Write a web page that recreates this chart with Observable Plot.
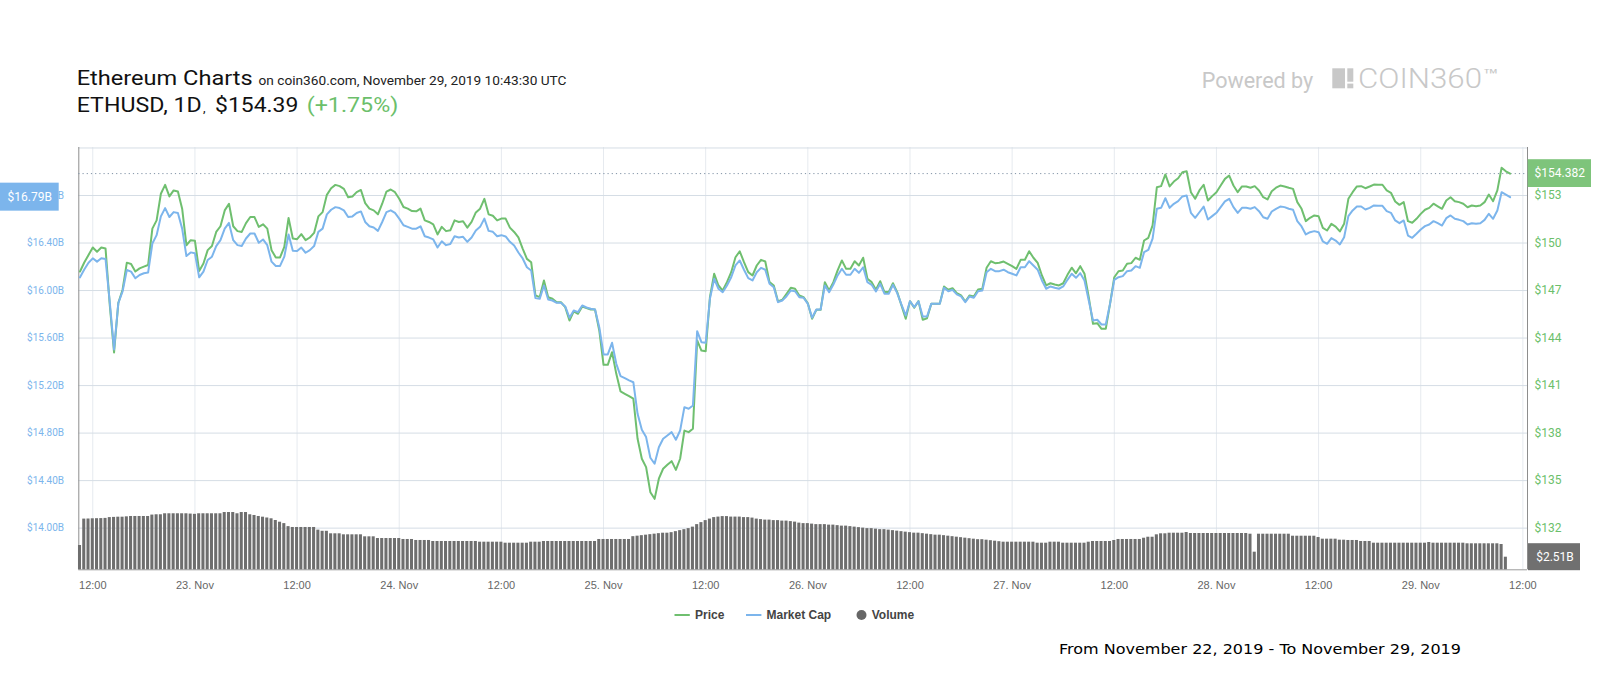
<!DOCTYPE html>
<html><head><meta charset="utf-8">
<script src="https://cdn.jsdelivr.net/npm/d3@7"></script>
<script src="https://cdn.jsdelivr.net/npm/@observablehq/plot@0.6"></script>
<style>
html,body{margin:0;padding:0;background:#fff;overflow:hidden;}
#wrap{position:relative;width:1600px;height:700px;}
#wrap > svg{position:absolute;left:0;top:0;margin:0;}
</style></head>
<body>
<div id="wrap">
<svg id="deco" width="1600" height="700">
  <text x="76.7" y="85" font-family="Roboto" font-size="21" fill="#111" textLength="176" lengthAdjust="spacingAndGlyphs">Ethereum Charts</text>
  <text x="258.5" y="85" font-family="Roboto" font-size="13" fill="#222" textLength="308" lengthAdjust="spacingAndGlyphs">on coin360.com, November 29, 2019 10:43:30 UTC</text>
  <text x="76.7" y="112" font-family="Roboto" font-size="20" fill="#111" textLength="125" lengthAdjust="spacingAndGlyphs">ETHUSD, 1D</text>
  <text x="203" y="112" font-family="Roboto" font-size="13" fill="#111">,</text>
  <text x="215" y="112" font-family="Roboto" font-size="20" fill="#111" textLength="83.3" lengthAdjust="spacingAndGlyphs">$154.39</text>
  <text x="306.7" y="112" font-family="Roboto" font-size="20" fill="#6cbf6b" textLength="91.6" lengthAdjust="spacingAndGlyphs">(+1.75%)</text>
  <text x="1201.7" y="88.3" font-family="Roboto" font-size="22" fill="#c8c8c8" textLength="111.6" lengthAdjust="spacingAndGlyphs">Powered by</text>
  <rect x="1332.3" y="68.3" width="12.7" height="20" fill="#c8c8c8"/>
  <rect x="1347.3" y="68.3" width="6" height="13.4" fill="#c8c8c8"/>
  <rect x="1347.3" y="83.6" width="6" height="4.7" fill="#c8c8c8"/>
  <text x="1358" y="88.3" font-family="Roboto" font-weight="300" font-size="28" fill="#c8c8c8" textLength="124" lengthAdjust="spacingAndGlyphs">COIN360</text>
  <text x="1483" y="81" font-family="Roboto" font-size="17" fill="#c8c8c8" textLength="16" lengthAdjust="spacingAndGlyphs">™</text>
  <line x1="674.5" x2="689.8" y1="615" y2="615" stroke="#6fbf6f" stroke-width="2"/>
  <text x="695" y="619.2" font-family="Liberation Sans, Arial" font-weight="bold" font-size="12" fill="#444">Price</text>
  <line x1="746" x2="761.4" y1="615" y2="615" stroke="#7cb5ec" stroke-width="2"/>
  <text x="766.5" y="619.2" font-family="Liberation Sans, Arial" font-weight="bold" font-size="12" fill="#444">Market Cap</text>
  <circle cx="861.5" cy="615" r="5" fill="#666"/>
  <text x="871.7" y="619.2" font-family="Liberation Sans, Arial" font-weight="bold" font-size="12" fill="#444">Volume</text>
  <text x="1059" y="654" font-family="DejaVu Sans" font-size="14" fill="#000" textLength="402" lengthAdjust="spacingAndGlyphs">From November 22, 2019 - To November 29, 2019</text>
</svg>
</div>
<script>
// ---- data (30-minute samples starting at startTime) ----
const startTime = "2019-11-22T10:30:00Z";
const stepMinutes = 30;

const price = [
148.20,148.77,149.24,149.72,149.45,149.72,149.65,146.06,143.09,146.21,
147.05,148.76,148.68,148.20,148.40,148.51,148.61,150.91,151.43,153.11,
153.67,152.94,153.32,153.25,152.17,149.86,150.18,150.14,148.23,148.71,
149.55,149.81,150.70,151.06,152.06,152.48,151.06,150.75,150.70,151.26,
151.64,151.64,151.02,151.18,150.91,149.55,149.09,149.09,149.76,151.58,
150.29,150.24,150.56,150.18,150.35,150.64,151.68,151.95,153.04,153.46,
153.67,153.59,153.42,152.89,152.94,153.21,153.35,152.52,152.17,152.06,
151.81,152.48,153.25,153.38,153.21,152.79,152.27,152.17,152.02,152.00,
152.17,151.43,151.33,151.18,150.54,151.02,150.75,150.80,151.43,151.33,
151.37,150.97,151.33,151.93,152.17,152.79,151.81,151.72,151.43,151.54,
151.54,150.97,150.70,150.35,149.65,149.00,148.79,146.69,146.58,147.63,
146.58,146.48,146.26,146.26,145.95,145.11,145.68,145.53,145.99,145.89,
145.80,145.80,144.48,142.31,142.31,143.11,141.74,140.63,140.48,140.33,
140.17,137.64,136.38,135.85,134.27,133.85,135.12,135.75,136.00,136.23,
135.68,136.38,138.16,138.06,138.27,143.85,143.21,143.17,146.58,148.06,
147.32,147.00,147.53,148.16,149.10,149.48,148.79,148.16,147.95,148.58,
148.94,148.83,147.53,147.32,146.31,146.42,146.79,147.17,147.11,146.69,
146.58,146.20,145.22,145.78,145.78,147.53,147.00,147.53,148.27,148.90,
148.37,148.37,148.85,148.58,149.07,147.74,147.53,147.05,147.59,146.90,
146.90,147.46,146.90,146.06,145.22,146.33,145.91,146.33,145.15,145.25,
146.16,146.16,146.16,147.26,147.05,147.15,146.83,146.69,146.31,146.69,
146.62,147.07,147.11,148.44,148.85,148.73,148.75,148.83,148.69,148.54,
148.37,148.94,148.94,149.48,149.07,148.75,147.95,147.32,147.46,147.38,
147.32,147.46,147.99,148.44,148.09,148.54,148.06,146.58,144.90,144.94,
144.58,144.58,146.16,147.84,148.22,148.27,148.69,148.73,149.07,148.94,
150.16,150.33,151.11,153.52,153.59,154.33,153.57,153.88,154.09,154.47,
154.53,153.21,152.79,153.32,153.68,152.68,152.96,153.21,153.63,154.05,
154.26,153.63,153.21,153.57,153.57,153.49,153.59,153.32,152.89,152.75,
153.27,153.49,153.63,153.57,153.49,153.42,152.58,152.16,151.38,151.59,
151.74,151.69,150.96,150.79,151.21,151.04,150.73,151.21,152.79,153.21,
153.57,153.59,153.46,153.57,153.69,153.68,153.68,153.32,153.17,152.62,
152.41,152.58,151.38,151.28,151.53,151.84,152.10,152.22,152.48,152.32,
152.16,152.68,152.89,152.64,152.58,152.48,152.26,152.37,152.32,152.37,
152.58,153.06,152.64,153.32,154.75,154.53,154.382];

const marketCap = [
16.111,16.177,16.234,16.271,16.243,16.271,16.265,15.899,15.504,15.894,
15.992,16.173,16.159,16.103,16.131,16.145,16.151,16.396,16.466,16.624,
16.694,16.619,16.660,16.653,16.521,16.290,16.321,16.313,16.111,16.159,
16.257,16.285,16.374,16.424,16.521,16.569,16.424,16.382,16.374,16.438,
16.480,16.480,16.402,16.430,16.382,16.243,16.207,16.207,16.285,16.472,
16.335,16.332,16.362,16.318,16.340,16.374,16.494,16.521,16.641,16.680,
16.702,16.694,16.675,16.619,16.624,16.653,16.666,16.577,16.541,16.530,
16.502,16.577,16.660,16.675,16.653,16.605,16.549,16.536,16.521,16.521,
16.541,16.457,16.446,16.430,16.362,16.415,16.382,16.391,16.457,16.446,
16.452,16.410,16.446,16.505,16.536,16.605,16.502,16.494,16.457,16.466,
16.455,16.410,16.379,16.320,16.270,16.196,16.169,15.936,15.930,16.042,
15.925,15.916,15.897,15.897,15.866,15.771,15.832,15.818,15.874,15.857,
15.846,15.840,15.691,15.462,15.462,15.560,15.383,15.279,15.262,15.243,
15.228,14.962,14.828,14.766,14.592,14.542,14.681,14.752,14.780,14.808,
14.744,14.822,15.018,15.005,15.032,15.658,15.565,15.560,15.930,16.099,
16.015,15.986,16.042,16.112,16.211,16.253,16.175,16.104,16.085,16.154,
16.191,16.175,16.057,16.028,15.902,15.916,15.952,16.000,15.994,15.944,
15.939,15.888,15.771,15.840,15.840,16.042,15.986,16.051,16.127,16.183,
16.133,16.133,16.183,16.149,16.196,16.070,16.048,15.992,16.057,15.973,
15.973,16.048,15.978,15.882,15.790,15.910,15.860,15.910,15.781,15.781,
15.888,15.888,15.888,16.023,15.994,16.006,15.967,15.950,15.902,15.950,
15.939,15.994,16.000,16.154,16.183,16.163,16.163,16.175,16.154,16.141,
16.127,16.196,16.196,16.247,16.211,16.175,16.085,16.015,16.034,16.023,
16.015,16.034,16.090,16.141,16.107,16.146,16.085,15.916,15.748,15.754,
15.714,15.714,15.888,16.090,16.112,16.121,16.163,16.169,16.205,16.191,
16.323,16.343,16.436,16.688,16.696,16.777,16.696,16.730,16.752,16.792,
16.800,16.654,16.612,16.659,16.707,16.598,16.626,16.654,16.702,16.750,
16.772,16.702,16.654,16.696,16.696,16.688,16.702,16.668,16.617,16.604,
16.665,16.688,16.707,16.702,16.688,16.680,16.584,16.539,16.472,16.491,
16.500,16.491,16.413,16.393,16.441,16.421,16.388,16.449,16.626,16.674,
16.707,16.707,16.682,16.696,16.716,16.713,16.713,16.668,16.654,16.590,
16.567,16.590,16.463,16.444,16.478,16.514,16.542,16.556,16.584,16.567,
16.547,16.609,16.632,16.604,16.595,16.584,16.556,16.567,16.562,16.567,
16.595,16.646,16.604,16.674,16.828,16.808,16.786];

const volume = [
4.84,10.10,10.12,10.16,10.18,10.20,10.24,10.40,10.44,10.48,
10.48,10.55,10.62,10.62,10.62,10.62,10.62,10.90,10.96,10.96,
11.16,11.16,11.16,11.16,11.16,11.16,11.10,11.05,11.16,11.16,
11.16,11.16,11.16,11.16,11.41,11.41,11.41,11.16,11.41,11.41,
10.96,10.82,10.62,10.48,10.32,10.16,9.82,9.48,9.20,8.60,
8.43,8.43,8.43,8.43,8.43,8.43,7.90,7.67,7.67,7.17,
7.17,7.17,6.97,6.97,6.97,6.97,6.97,6.57,6.57,6.57,
6.23,6.23,6.23,6.23,6.23,6.23,6.04,6.04,6.04,5.84,
5.84,5.84,5.84,5.64,5.64,5.64,5.64,5.64,5.64,5.64,
5.64,5.64,5.64,5.64,5.50,5.50,5.50,5.50,5.50,5.50,
5.30,5.30,5.30,5.30,5.30,5.30,5.50,5.50,5.50,5.64,
5.64,5.64,5.64,5.64,5.64,5.64,5.64,5.64,5.64,5.64,
5.64,5.64,6.04,6.04,6.04,6.04,6.04,6.04,6.04,6.04,
6.60,6.70,6.80,6.90,7.00,7.10,7.20,7.29,7.29,7.40,
7.60,7.80,8.00,8.20,8.50,9.00,9.40,9.80,10.10,10.40,
10.50,10.60,10.60,10.50,10.50,10.50,10.40,10.40,10.30,10.10,
10.00,9.90,9.90,9.80,9.80,9.70,9.70,9.60,9.50,9.30,
9.20,9.20,9.10,9.00,9.00,9.00,8.90,8.90,8.80,8.70,
8.70,8.60,8.50,8.40,8.30,8.20,8.20,8.10,8.00,8.00,
7.90,7.80,7.70,7.60,7.50,7.40,7.30,7.30,7.20,7.10,
7.00,6.90,6.90,6.80,6.70,6.60,6.50,6.40,6.30,6.20,
6.10,6.00,6.00,5.90,5.80,5.70,5.60,5.50,5.50,5.50,
5.50,5.50,5.50,5.50,5.50,5.30,5.30,5.30,5.50,5.50,
5.50,5.30,5.30,5.30,5.30,5.30,5.30,5.50,5.64,5.64,
5.64,5.64,5.64,5.84,6.04,6.04,6.04,6.04,6.04,6.04,
6.29,6.49,6.49,6.97,7.17,7.17,7.29,7.29,7.29,7.29,
7.43,7.23,7.23,7.23,7.23,7.23,7.23,7.23,7.23,7.23,
7.23,7.23,7.23,7.23,7.23,7.09,3.51,7.09,7.09,7.09,
7.09,7.09,7.09,7.09,7.09,6.69,6.69,6.69,6.69,6.69,
6.69,6.43,6.10,6.10,6.10,6.10,5.90,5.90,5.84,5.84,
5.84,5.64,5.64,5.64,5.30,5.30,5.30,5.30,5.30,5.30,
5.30,5.30,5.30,5.30,5.30,5.30,5.30,5.44,5.30,5.30,
5.30,5.30,5.30,5.30,5.30,5.30,5.18,5.18,5.18,5.18,
5.18,5.18,5.18,5.18,5.04,2.51];

const priceTicks = [132,135,138,141,144,147,150,153,156];
const priceLabelTicks = [132,135,138,141,144,147,150,153];
const capLabelTicks = [14.0,14.4,14.8,15.2,15.6,16.0,16.4,16.8];
const xTickTimes = ["2019-11-22T12:00Z","2019-11-23T00:00Z","2019-11-23T12:00Z","2019-11-24T00:00Z","2019-11-24T12:00Z","2019-11-25T00:00Z","2019-11-25T12:00Z","2019-11-26T00:00Z","2019-11-26T12:00Z","2019-11-27T00:00Z","2019-11-27T12:00Z","2019-11-28T00:00Z","2019-11-28T12:00Z","2019-11-29T00:00Z","2019-11-29T12:00Z"];
const xTickLabels = ["12:00","23. Nov","12:00","24. Nov","12:00","25. Nov","12:00","26. Nov","12:00","27. Nov","12:00","28. Nov","12:00","29. Nov","12:00"];

// ---- layout / style ----
const W = 1600, H = 600;
const M = {marginTop: 147, marginLeft: 78.3, marginRight: 73, marginBottom: 30.7};
const xDomain = [new Date("2019-11-22T10:21:30Z"), new Date("2019-11-29T12:32:30Z")];
const priceDomain = [129.37, 156.03];
const capDomain = [13.649, 17.204];
const volDomain = [0, 84.12];
const GREEN = "#6fbf6f", GREEN_TXT = "#6cbf6b", GREEN_BOX = "#7ec47b";
const BLUE = "#7cb5ec", BLUE_BOX = "#7cb5ec";
const STYLE = {background: "transparent", fontFamily: "Roboto, sans-serif", overflow: "visible"};

const t0 = Date.parse(startTime);
const times = price.map((_, i) => new Date(t0 + i * stepMinutes * 60000));
const series = price.map((p, i) => ({time: times[i], price: p, cap: marketCap[i]}));
const volRows = volume.map((v, i) => ({time: times[i], vol: v}));
const xTicks = xTickTimes.map(s => new Date(s));
const xLabelMap = new Map(xTicks.map((d, i) => [+d, xTickLabels[i]]));
const lastPrice = price[price.length - 1];
const lastCap = marketCap[marketCap.length - 1];
const lastVol = volume[volume.length - 1];

const pricePlot = Plot.plot({
  width: W, height: H, ...M, style: STYLE,
  x: {type: "utc", domain: xDomain},
  y: {domain: priceDomain},
  marks: [
    Plot.ruleX(xTicks, {stroke: "#e6eaef"}),
    Plot.ruleY(priceTicks, {stroke: "#d5dde5"}),
    Plot.ruleY([priceDomain[0]], {stroke: "#9a9a9a"}),
    Plot.ruleX([xDomain[0], xDomain[1]], {stroke: "#8d8d8d"}),
    Plot.ruleY([lastPrice], {stroke: "#8193a6", strokeDasharray: "1.2,3"}),
    Plot.lineY(series, {x: "time", y: "price", stroke: GREEN, strokeWidth: 2, strokeLinejoin: "round"}),
    Plot.axisY(priceLabelTicks, {anchor: "right", tickSize: 0, tickPadding: 7, tickFormat: d => "$" + d, fill: GREEN_TXT, fontSize: 12, label: null}),
    Plot.axisX(xTicks, {anchor: "bottom", tickSize: 0, tickPadding: 11, tickFormat: d => xLabelMap.get(+d), fill: "#666", fontSize: 11, fontFamily: "Liberation Sans, Arial, sans-serif", label: null}),
    Plot.rect([lastPrice], {x1: () => xDomain[1], x2: () => xDomain[1], y1: d => d, y2: d => d, insetLeft: 0.7, insetRight: -64, insetTop: -13.9, insetBottom: -13.9, fill: GREEN_BOX}),
    Plot.text([lastPrice], {x: () => xDomain[1], y: d => d, dx: 32.3, text: d => "$" + d.toFixed(3), fill: "white", fontSize: 12})
  ]
});

const capPlot = Plot.plot({
  width: W, height: H, ...M, style: STYLE,
  x: {type: "utc", domain: xDomain, axis: null},
  y: {domain: capDomain},
  marks: [
    Plot.lineY(series, {x: "time", y: "cap", stroke: BLUE, strokeWidth: 2, strokeLinejoin: "round"}),
    Plot.axisY(capLabelTicks, {anchor: "left", tickSize: 0, tickPadding: 14.8, tickFormat: d => "$" + d.toFixed(2) + "B", fill: BLUE, fontSize: 10, label: null}),
    Plot.rect([lastCap], {x1: () => xDomain[0], x2: () => xDomain[0], y1: d => d, y2: d => d, insetLeft: -78.3, insetRight: 19.6, insetTop: -14, insetBottom: -14, fill: BLUE_BOX}),
    Plot.text([lastCap], {x: () => xDomain[0], y: d => d, dx: -49, text: d => "$" + d.toFixed(2) + "B", fill: "white", fontSize: 12})
  ]
});

const volPlot = Plot.plot({
  width: W, height: H, ...M, style: STYLE,
  x: {type: "utc", domain: xDomain, axis: null},
  y: {domain: volDomain, axis: null},
  marks: [
    Plot.rect(volRows, {x1: d => new Date(+d.time - 15 * 60000), x2: d => new Date(+d.time + 15 * 60000), y1: 0, y2: "vol", fill: "#6e6e6e", insetLeft: 0.6, insetRight: 0.6}),
    Plot.rect([lastVol], {x1: () => xDomain[1], x2: () => xDomain[1], y1: d => d, y2: d => d, insetLeft: 1, insetRight: -53, insetTop: -13.5, insetBottom: -13.5, fill: "#707070"}),
    Plot.text([lastVol], {x: () => xDomain[1], y: d => d, dx: 27.5, text: d => "$" + d.toFixed(2) + "B", fill: "white", fontSize: 12})
  ]
});

const wrap = document.getElementById("wrap");
wrap.appendChild(pricePlot);
wrap.appendChild(capPlot);
wrap.appendChild(volPlot);
</script>
</body></html>
